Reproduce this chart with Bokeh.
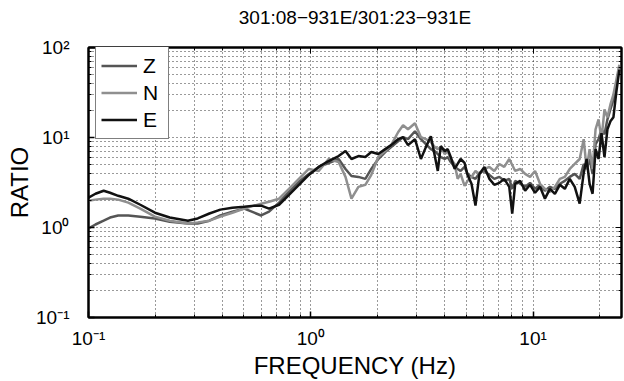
from bokeh.plotting import figure
from bokeh.models import (Range1d, FixedTicker, LogAxis, Legend, LegendItem,
                          ColumnDataSource)
from bokeh.embed import file_html
from bokeh.resources import INLINE

# Spectral ratio, station 301, events 08 / 23 (931E)
freq_hz = [
    0.100, 0.1075, 0.117, 0.125, 0.136, 0.151, 0.171, 0.199, 0.232, 0.280,
    0.310, 0.350, 0.392, 0.444, 0.502, 0.557, 0.598, 0.649, 0.720, 0.798,
    0.884, 0.980, 1.086, 1.203, 1.334, 1.433, 1.524, 1.638, 1.760, 1.872,
    2.012, 2.162, 2.299, 2.471, 2.602, 2.738, 2.943, 3.130, 3.295, 3.469,
    3.614, 3.728, 3.845, 4.007, 4.132, 4.262, 4.440, 4.579, 4.722, 4.920,
    5.074, 5.286, 5.508, 5.739, 6.041, 6.360, 6.695, 7.050, 7.421, 7.815,
    8.060, 8.311, 8.750, 9.211, 9.696, 10.21, 10.75, 11.31, 11.91, 12.54,
    13.20, 13.90, 14.63, 15.40, 16.21, 16.90, 17.42, 17.97, 18.53, 19.11,
    19.71, 20.32, 20.96, 21.61, 22.29, 22.99, 23.71, 24.45,
]

ratio_z = [
    0.975, 1.08, 1.19, 1.29, 1.36, 1.36, 1.32, 1.26, 1.16, 1.11,
    1.11, 1.19, 1.36, 1.50, 1.62, 1.46, 1.36, 1.50, 1.89, 2.49,
    3.22, 3.94, 4.71, 5.21, 5.77, 4.47, 3.74, 3.65, 3.47, 4.47,
    5.77, 6.89, 7.82, 9.10, 10.08, 9.58, 11.74, 9.58, 8.44, 7.43,
    7.06, 6.55, 6.07, 5.77, 6.07, 5.34, 4.71, 4.47, 4.25, 4.71,
    3.94, 3.65, 3.47, 4.04, 4.25, 3.84, 3.47, 3.65, 3.30, 3.47,
    2.69, 3.30, 3.06, 2.83, 3.13, 2.69, 2.98, 2.56, 2.83, 2.69,
    3.06, 3.30, 3.65, 3.94, 3.47, 5.08, 4.47, 5.77, 3.94, 8.44,
    9.58, 12.35, 10.87, 15.92, 20.5, 26.4, 38.7, 59.6,
]

ratio_n = [
    1.98, 2.04, 2.09, 2.09, 2.04, 1.89, 1.62, 1.32, 1.19, 1.11,
    1.14, 1.19, 1.32, 1.46, 1.62, 1.75, 1.84, 1.93, 2.09, 2.69,
    3.47, 4.47, 4.25, 5.77, 5.34, 3.65, 2.09, 2.83, 2.98, 3.84,
    6.07, 7.06, 8.23, 11.44, 13.67, 12.35, 14.38, 10.08, 9.58, 8.88,
    7.82, 7.43, 7.82, 6.55, 7.06, 5.77, 5.08, 3.47, 3.94, 2.90,
    3.30, 3.65, 4.25, 3.94, 4.47, 4.71, 4.25, 5.08, 4.71, 5.77,
    4.95, 4.25, 4.47, 3.94, 3.65, 4.25, 3.06, 2.69, 2.49, 2.83,
    3.47, 3.65, 4.47, 5.08, 5.77, 9.58, 4.47, 7.43, 4.47, 12.35,
    15.92, 9.58, 20.5, 16.74, 23.3, 30.0, 43.9, 64.3,
]

ratio_e = [
    2.14, 2.37, 2.56, 2.43, 2.25, 2.09, 1.79, 1.46, 1.29, 1.19,
    1.26, 1.43, 1.58, 1.66, 1.70, 1.75, 1.75, 1.62, 1.79, 2.31,
    2.98, 3.84, 4.71, 5.48, 6.22, 7.06, 5.77, 6.22, 6.07, 6.89,
    6.55, 7.43, 8.23, 9.58, 10.08, 8.23, 9.58, 5.77, 7.82, 10.33,
    6.22, 4.25, 8.02, 7.06, 7.43, 6.07, 4.47, 5.08, 5.77, 5.21,
    3.84, 3.06, 1.75, 3.94, 4.71, 3.47, 2.98, 3.13, 3.47, 2.83,
    1.43, 3.06, 3.30, 2.56, 2.98, 2.43, 2.83, 2.09, 2.69, 2.37,
    2.98, 2.69, 3.47, 2.83, 1.84, 4.04, 5.77, 3.06, 2.37, 7.43,
    5.77, 11.15, 6.07, 12.35, 15.12, 16.74, 32.4, 56.6,
]

components = ["Z", "N", "E"]
component_colors = ["#555555", "#8f8f8f", "#111111"]

x_major = [0.1, 1, 10]
x_minor = [0.2, 0.3, 0.4, 0.5, 0.6, 0.7, 0.8, 0.9,
           2, 3, 4, 5, 6, 7, 8, 9, 20]
y_major = [0.1, 1, 10, 100]
y_minor = [0.2, 0.3, 0.4, 0.5, 0.6, 0.7, 0.8, 0.9,
           2, 3, 4, 5, 6, 7, 8, 9,
           20, 30, 40, 50, 60, 70, 80, 90]
x_labels = {0.1: "10\u207b\u00b9", 1: "10\u2070", 10: "10\u00b9"}
y_labels = {0.1: "10\u207b\u00b9", 1: "10\u2070", 10: "10\u00b9", 100: "10\u00b2"}

FONT = "Liberation Sans"

p = figure(width=624, height=381, x_axis_type="log", y_axis_type="log",
           x_range=Range1d(0.1, 25), y_range=Range1d(0.1, 100),
           output_backend="svg", toolbar_location=None,
           min_border_left=88, min_border_right=1,
           min_border_top=47, min_border_bottom=62,
           title="301:08\u2212931E/301:23\u2212931E")

p.background_fill_color = "white"
p.border_fill_color = "white"
p.outline_line_color = "black"
p.outline_line_width = 2

p.title.align = "center"
p.title.text_font = FONT
p.title.text_font_size = "19px"
p.title.text_font_style = "normal"
p.title.text_color = "black"
p.title.standoff = 8

src = ColumnDataSource(dict(f=freq_hz, z=ratio_z, n=ratio_n, e=ratio_e))
renderers = []
for key, col in zip(["z", "n", "e"], component_colors):
    r = p.line("f", key, source=src, line_color=col, line_width=2.5)
    renderers.append(r)

# axes: ticks point inward, MATLAB style
for ax in (p.xaxis[0], p.yaxis[0]):
    ax.major_tick_in = 6
    ax.major_tick_out = 0
    ax.minor_tick_in = 3
    ax.minor_tick_out = 0
    ax.axis_line_color = "black"
    ax.axis_line_width = 2
    ax.major_tick_line_width = 1.5
    ax.major_label_text_font = FONT
    ax.major_label_text_font_size = "19px"
    ax.major_label_text_color = "black"
    ax.axis_label_text_font = FONT
    ax.axis_label_text_font_size = "24px"
    ax.axis_label_text_font_style = "normal"
    ax.axis_label_text_color = "black"

p.xaxis[0].ticker = FixedTicker(ticks=x_major, minor_ticks=x_minor)
p.yaxis[0].ticker = FixedTicker(ticks=y_major, minor_ticks=y_minor)
p.xaxis[0].major_label_overrides = x_labels
p.yaxis[0].major_label_overrides = y_labels
p.xaxis[0].axis_label = "FREQUENCY (Hz)"
p.yaxis[0].axis_label = "RATIO"
p.xaxis[0].major_label_standoff = 10
p.yaxis[0].major_label_standoff = 19
p.xaxis[0].axis_label_standoff = 0
p.yaxis[0].axis_label_standoff = 0

# mirrored tick marks on the top and right edges; their labels are blank,
# and the top one's label gap lifts the title away from the frame
for side, major, minor, gap in (("above", x_major, x_minor, 12),
                                ("right", y_major, y_minor, 0)):
    ax = LogAxis(ticker=FixedTicker(ticks=major, minor_ticks=minor))
    ax.major_tick_in = 6
    ax.major_tick_out = 0
    ax.minor_tick_in = 3
    ax.minor_tick_out = 0
    ax.major_label_overrides = {t: " " for t in major}
    ax.major_label_text_font_size = "1px"
    ax.major_label_text_color = "white"
    ax.major_label_standoff = gap
    ax.axis_line_width = 2
    p.add_layout(ax, side)

# dotted major and minor grid
for g in (p.xgrid[0], p.ygrid[0]):
    g.grid_line_color = "#111111"
    g.grid_line_dash = "1 3"
    g.grid_line_width = 1
    g.grid_line_alpha = 0.85
    g.minor_grid_line_color = "#111111"
    g.minor_grid_line_dash = "1 3"
    g.minor_grid_line_width = 1
    g.minor_grid_line_alpha = 0.85
p.xgrid[0].ticker = p.xaxis[0].ticker
p.ygrid[0].ticker = p.yaxis[0].ticker

legend = Legend(items=[LegendItem(label=c, renderers=[r])
                       for c, r in zip(components, renderers)],
                location=(7, 178))
legend.label_text_font = FONT
legend.label_text_font_size = "21px"
legend.label_text_color = "black"
legend.glyph_width = 36
legend.glyph_height = 27
legend.label_height = 27
legend.label_standoff = 6
legend.spacing = 0
legend.padding = 5
legend.border_line_color = "black"
legend.border_line_width = 1
legend.background_fill_color = "white"
legend.background_fill_alpha = 1
p.add_layout(legend, "center")

open("out.html", "w").write(file_html(p, INLINE))
